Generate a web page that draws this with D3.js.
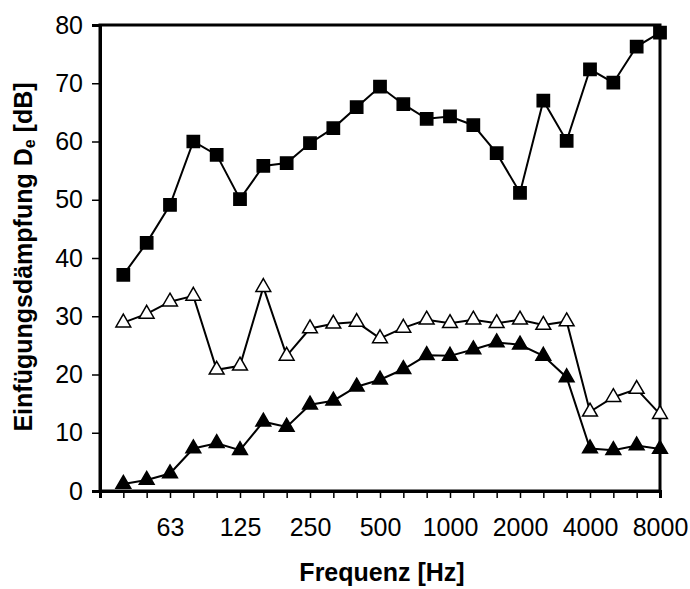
<!DOCTYPE html>
<html><head><meta charset="utf-8">
<script src="https://cdn.jsdelivr.net/npm/d3@7"></script>
<style>body{margin:0;background:#fff}svg{display:block}</style>
</head><body>
<svg id="c" width="690" height="589"></svg>
<script>
const freqs = ["40","50","63","80","100","125","160","200","250","315","400","500","630","800","1000","1250","1600","2000","2500","3150","4000","5000","6300","8000"];
const seriesSquares = [37.1,42.6,49.1,60.0,57.7,50.1,55.8,56.3,59.7,62.3,65.9,69.4,66.4,63.9,64.3,62.8,58.0,51.2,67.0,60.1,72.4,70.1,76.3,78.7];
const seriesOpenTri = [28.9,30.4,32.5,33.5,20.8,21.5,35.0,23.2,27.9,28.7,29.0,26.2,28.0,29.4,28.8,29.4,28.8,29.4,28.5,29.1,13.6,16.1,17.5,13.2];
const seriesFilledTri = [1.2,1.9,3.0,7.3,8.2,7.0,11.9,11.0,14.8,15.5,17.9,19.1,20.9,23.3,23.2,24.3,25.5,25.1,23.2,19.5,7.3,7.0,7.8,7.2];
const xTickLabels = ["63","125","250","500","1000","2000","4000","8000"];
const yTicks = [0,10,20,30,40,50,60,70,80];

const svg = d3.select("#c");
const L = 100, R = 660, T = 25, B = 491;
const x = d3.scaleLinear().domain([-1, freqs.length - 1]).range([L, R]);
const y = d3.scaleLinear().domain([0, 80]).range([B, T]);
const font = "'Liberation Sans', Arial, sans-serif";

// frame
svg.append("rect").attr("x", L).attr("y", T).attr("width", R - L).attr("height", B - T)
  .attr("fill", "none").attr("stroke", "#000").attr("stroke-width", 3);

// y axis
const yAxis = d3.axisLeft(y).tickValues(yTicks).tickSize(8).tickPadding(9).tickFormat(d3.format("d"));
const gy = svg.append("g").attr("transform", `translate(${L},0)`).call(yAxis);
gy.select(".domain").attr("stroke-width", 3);
gy.selectAll(".tick line").attr("stroke-width", 1.5);
gy.selectAll("text").attr("font-family", font).attr("font-size", 25).attr("fill", "#000");

// x axis: ticks at every band plus left edge
const xIdx = d3.range(-1, freqs.length);
const xAxis = d3.axisBottom(x).tickValues(xIdx).tickSize(7).tickPadding(20)
  .tickFormat(i => (i >= 0 && xTickLabels.includes(freqs[i])) ? freqs[i] : "");
const gx = svg.append("g").attr("transform", `translate(0,${B})`).call(xAxis);
gx.select(".domain").attr("stroke-width", 3);
gx.selectAll(".tick line").attr("stroke-width", 1.5);
gx.selectAll("text").attr("font-family", font).attr("font-size", 25).attr("fill", "#000");

const line = d3.line().x((d, i) => x(i)).y(d => y(d));
function drawSeries(data, shape, fill) {
  svg.append("path").datum(data).attr("d", line).attr("fill", "none")
    .attr("stroke", "#000").attr("stroke-width", 2);
  const sym = d3.symbol().type(shape).size(shape === d3.symbolSquare ? 150 : 95);
  svg.append("g").selectAll("path").data(data).join("path")
    .attr("d", sym)
    .attr("transform", (d, i) => `translate(${x(i)},${y(d)})`)
    .attr("fill", fill).attr("stroke", "#000").attr("stroke-width", 1.5);
}
drawSeries(seriesSquares, d3.symbolSquare, "#000");
drawSeries(seriesOpenTri, d3.symbolTriangle, "#fff");
drawSeries(seriesFilledTri, d3.symbolTriangle, "#000");

// axis titles
svg.append("text").attr("x", 382).attr("y", 581).attr("text-anchor", "middle")
  .attr("font-family", font).attr("font-weight", "bold").attr("font-size", 25).text("Frequenz [Hz]");
const yt = svg.append("text").attr("transform", "translate(32,257) rotate(-90)")
  .attr("text-anchor", "middle").attr("font-family", font).attr("font-weight", "bold").attr("font-size", 25);
yt.append("tspan").text("Einfügungsdämpfung D");
yt.append("tspan").attr("font-size", 16).attr("dy", 3).text("e");
yt.append("tspan").attr("dy", -3).text(" [dB]");
</script>
</body></html>
